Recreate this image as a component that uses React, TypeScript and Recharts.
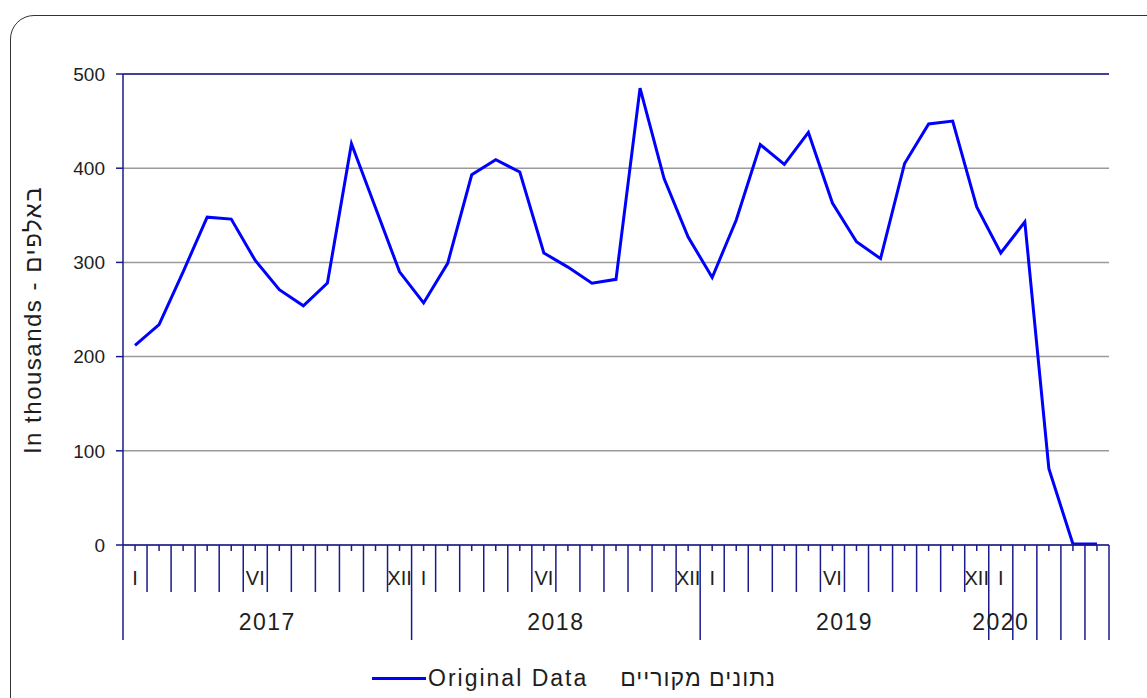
import React from 'react';
import { CartesianGrid, Label, Line, LineChart, ReferenceLine, XAxis, YAxis } from 'recharts';

// monthly values, Jan 2017 .. May 2020 (thousands)
const values2017 = [212, 234, 290, 348, 346, 302, 271, 254, 278, 426, 358, 290];
const values2018 = [257, 299, 393, 409, 396, 310, 295, 278, 282, 485, 389, 327];
const values2019 = [284, 345, 425, 404, 438, 363, 322, 304, 405, 447, 450, 359];
const values2020 = [310, 343, 81, 1, 1];

const years = [2017, 2018, 2019, 2020];
const romanMonths = ['I', 'II', 'III', 'IV', 'V', 'VI', 'VII', 'VIII', 'IX', 'X', 'XI', 'XII'];
const labelledMonths = ['I', 'VI', 'XII'];
const yTicks = [0, 100, 200, 300, 400, 500];

const seriesName = 'Original Data';
const seriesNameHe = 'נתונים מקוריים';
const yAxisTitle = 'In thousands - באלפים';

const valuesByYear = [values2017, values2018, values2019, values2020];
const data = valuesByYear.flatMap((vals, yi) =>
  vals.map((v, mi) => ({ key: `${years[yi]}-${mi}`, year: years[yi], month: mi, value: v }))
);
const monthsInYear: Record<number, number> = {};
years.forEach((y, i) => (monthsInYear[y] = valuesByYear[i].length));

const W = 1147;
const H = 698;
const TOP = 74;
const RIGHT = 38;
const Y_AXIS_W = 123;
const X_AXIS_H = 153;
const AXIS_Y = H - X_AXIS_H;
const PLOT_W = W - RIGHT - Y_AXIS_W;
const BAND = PLOT_W / data.length;
const NAVY = '#1a1a8c';
const TEXT = '#1e1e1e';
const FONT = '"Liberation Sans", Arial, "DejaVu Sans", sans-serif';

function MonthTick(props: any) {
  const { x, payload } = props;
  const [ys, ms] = String(payload.value).split('-');
  const year = Number(ys);
  const month = Number(ms);
  const idx = data.findIndex((d) => d.key === payload.value);
  const partial = monthsInYear[year] < 12;
  const left = x - BAND / 2;
  const longEnd = month === 0 || partial ? 640 : 592;
  const name = romanMonths[month];
  return (
    <g>
      <line x1={x} x2={x} y1={AXIS_Y} y2={AXIS_Y + 6} stroke={NAVY} strokeWidth={1.5} />
      <line x1={left} x2={left} y1={AXIS_Y} y2={longEnd} stroke={NAVY} strokeWidth={1.5} />
      {idx === data.length - 1 && (
        <line x1={x + BAND / 2} x2={x + BAND / 2} y1={AXIS_Y} y2={640} stroke={NAVY} strokeWidth={1.5} />
      )}
      {labelledMonths.includes(name) && (
        <text x={x} y={578} textAnchor="middle" dominantBaseline="central" fontSize={20} fill={TEXT} fontFamily={FONT}>
          {name}
        </text>
      )}
      {month === 0 && (
        <text
          x={partial ? x : x + 5.5 * BAND}
          y={622}
          textAnchor="middle"
          dominantBaseline="central"
          fontSize={23}
          letterSpacing={1.5}
          fill={TEXT}
          fontFamily={FONT}
        >
          {year}
        </text>
      )}
    </g>
  );
}

export default function App() {
  return (
    <div style={{ position: 'absolute', left: 0, top: 0, width: W, height: H, overflow: 'hidden', background: '#fff' }}>
      <div
        style={{
          position: 'absolute',
          left: 10,
          top: 15,
          width: 1170,
          height: 720,
          border: '1.5px solid #333',
          borderRadius: 24,
        }}
      />
      <div style={{ position: 'absolute', left: 0, top: 0 }}>
        <LineChart width={W} height={H} data={data} margin={{ top: TOP, right: RIGHT, left: 0, bottom: 0 }}>
          <CartesianGrid vertical={false} stroke="#9a9a9a" strokeWidth={1.5} />
          <XAxis
            dataKey="key"
            interval={0}
            height={X_AXIS_H}
            padding={{ left: BAND / 2, right: BAND / 2 }}
            tickLine={false}
            axisLine={{ stroke: NAVY, strokeWidth: 1.5 }}
            tick={<MonthTick />}
          />
          <YAxis
            width={Y_AXIS_W}
            domain={[0, 500]}
            ticks={yTicks}
            tickSize={7}
            tickMargin={11}
            tickLine={{ stroke: NAVY, strokeWidth: 1.5 }}
            axisLine={{ stroke: NAVY, strokeWidth: 1.5 }}
            tick={{ fontSize: 19, fill: TEXT, fontFamily: FONT }}
          >
            <Label
              content={() => (
                <text
                  x={32}
                  y={320}
                  transform="rotate(-90 32 320)"
                  textAnchor="middle"
                  dominantBaseline="central"
                  fontSize={24}
                  letterSpacing={1.5}
                  fill={TEXT}
                  fontFamily={FONT}
                >
                  {yAxisTitle}
                </text>
              )}
            />
          </YAxis>
          <YAxis
            yAxisId="right"
            orientation="right"
            width={0}
            domain={[0, 500]}
            tick={false}
            tickLine={false}
            axisLine={{ stroke: NAVY, strokeWidth: 1.5 }}
          />
          <ReferenceLine y={500} stroke={NAVY} strokeWidth={1.5} />
          <Line
            type="linear"
            dataKey="value"
            name={seriesName}
            stroke="#0000ff"
            strokeWidth={3}
            dot={false}
            isAnimationActive={false}
          />
        </LineChart>
      </div>
      <div
        style={{
          position: 'absolute',
          left: 372,
          top: 664,
          display: 'flex',
          alignItems: 'center',
          fontFamily: FONT,
          fontSize: 23,
          color: TEXT,
          lineHeight: '28px',
          whiteSpace: 'nowrap',
        }}
      >
        <span style={{ display: 'inline-block', width: 54, height: 3, background: '#0000ff' }} />
        <span style={{ marginLeft: 2, letterSpacing: 2 }}>{seriesName}</span>
        <span style={{ marginLeft: 32, letterSpacing: 1 }}>{seriesNameHe}</span>
      </div>
    </div>
  );
}
